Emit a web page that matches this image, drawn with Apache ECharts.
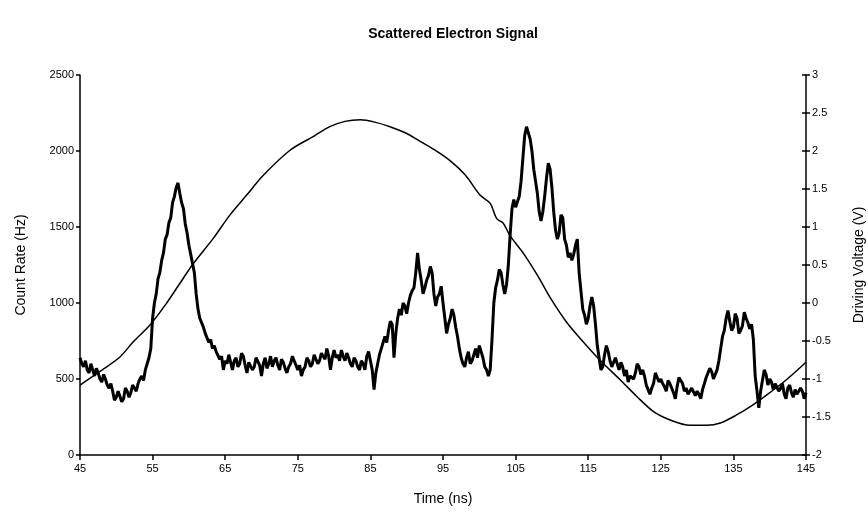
<!DOCTYPE html>
<html>
<head>
<meta charset="utf-8">
<script src="https://cdn.jsdelivr.net/npm/echarts@6/dist/echarts.min.js"></script>
<style>html,body{margin:0;padding:0;background:#fff}#c{width:868px;height:515px}</style>
</head>
<body>
<div id="c"></div>
<script>
const xTicks = [45, 55, 65, 75, 85, 95, 105, 115, 125, 135, 145];
const countStart = 45;
const countStep = 0.25;
const countRate = [
  640,600,580,620,560,540,600,560,520,570,540,500,480,530,500,460,440,470,420,360,380,
  420,430,350,370,440,420,380,410,460,450,420,470,500,520,490,560,600,640,700,900,
  1000,1060,1160,1200,1280,1330,1420,1450,1530,1560,1660,1700,1760,1790,1720,1660,1620,1520,1460,1380,
  1320,1260,1200,1060,960,900,870,840,800,790,740,760,700,720,680,690,630,650,560,620,
  600,660,610,560,620,640,580,600,670,650,590,540,610,620,560,580,640,650,590,520,
  600,640,570,600,650,580,620,640,590,560,630,610,570,540,580,600,650,620,590,560,
  590,520,560,580,640,620,580,600,660,650,600,620,670,680,630,700,650,560,640,690,
  640,660,620,690,650,620,670,640,600,580,640,620,580,560,620,600,560,650,680,620,
  560,430,540,600,660,700,740,780,740,820,880,860,640,800,900,960,920,1000,980,930,
  1000,1050,1080,1100,1200,1330,1220,1150,1060,1100,1150,1180,1240,1200,1060,980,1040,1060,1110,1000,
  900,800,860,900,960,920,840,780,700,640,600,580,640,680,600,620,660,700,640,720,
  680,640,580,560,520,560,760,1000,1100,1150,1220,1200,1120,1060,1120,1250,1450,1620,1680,1630,
  1640,1700,1800,1950,2100,2160,2120,2080,2000,1880,1800,1720,1600,1540,1600,1700,1820,1920,1880,1760,
  1600,1480,1420,1460,1580,1560,1420,1380,1300,1330,1280,1320,1380,1420,1200,1080,960,920,860,900,
  980,1040,980,860,720,640,560,580,660,720,680,620,580,590,640,600,560,610,580,520,
  560,480,520,530,500,540,600,580,530,560,520,460,430,400,440,470,540,530,480,500,
  470,450,420,490,470,460,410,370,450,510,490,470,420,440,400,390,440,430,390,420,
  400,370,430,470,510,520,570,550,500,510,560,620,700,780,820,900,950,880,820,840,
  930,900,800,820,850,940,900,870,830,860,760,520,420,310,420,490,560,530,460,500,
  480,430,470,460,420,440,470,400,370,440,460,410,380,430,400,390,440,420,370,410
];
const voltTime = [45,47.75,50.5,52.34,54.64,56.94,58.77,60.61,63.36,65.66,67.96,70.25,73.93,77.3,79.4,81.5,83.6,85.6,87.7,89.8,91.8,93.9,96,98.1,100.1,101.5,102.4,103.3,104.2,106.1,108.1,109.7,112,114.3,116.6,119.4,121.7,124,126.3,129,131.3,133.2,135.5,137.7,139.6,142.3,145];
const voltage = [-1.08,-0.9,-0.71,-0.51,-0.29,0,0.26,0.52,0.85,1.16,1.42,1.68,2.01,2.2,2.32,2.39,2.41,2.38,2.32,2.24,2.13,2.01,1.87,1.68,1.42,1.31,1.11,1.05,0.89,0.65,0.35,0.08,-0.25,-0.51,-0.75,-1.01,-1.23,-1.43,-1.54,-1.61,-1.61,-1.58,-1.47,-1.34,-1.21,-1.01,-0.78];

const countData = countRate.map((v, i) => [countStart + i * countStep, v]);
const voltData = voltTime.map((t, i) => [t, voltage[i]]);

const font = 'Liberation Sans, Arial, sans-serif';
const chart = echarts.init(document.getElementById('c'), null, {renderer: 'canvas'});
chart.setOption({
  animation: false,
  backgroundColor: '#fff',
  title: {
    text: 'Scattered Electron Signal',
    left: 448, top: 22, textAlign: 'center',
    textStyle: {fontFamily: font, fontSize: 14, fontWeight: 'bold', color: '#000'}
  },
  grid: {left: 80, right: 62, top: 75, bottom: 60, containLabel: false, outerBoundsMode: 'none'},
  xAxis: {
    type: 'value', min: 45, max: 145, interval: 10,
    name: 'Time (ns)', nameLocation: 'middle', nameGap: 37,
    nameTextStyle: {fontFamily: font, fontSize: 14, color: '#000'},
    axisLine: {show: true, lineStyle: {color: '#000', width: 1.5}},
    axisTick: {show: true, inside: false, length: 5, lineStyle: {color: '#000', width: 1.5}},
    axisLabel: {fontFamily: font, fontSize: 11, color: '#000', margin: 8, formatter: v => String(v)},
    splitLine: {show: false}
  },
  yAxis: [
    {
      type: 'value', min: 0, max: 2500, interval: 500, position: 'left',
      name: 'Count Rate (Hz)', nameLocation: 'middle', nameGap: 52,
      nameTextStyle: {fontFamily: font, fontSize: 14, color: '#000'},
      axisLine: {show: true, lineStyle: {color: '#000', width: 1.5}},
      axisTick: {show: true, length: 4, lineStyle: {color: '#000', width: 1.5}},
      axisLabel: {fontFamily: font, fontSize: 11, color: '#000', margin: 6, formatter: v => String(v)},
      splitLine: {show: false}
    },
    {
      type: 'value', min: -2, max: 3, interval: 0.5, position: 'right',
      name: 'Driving Voltage (V)', nameLocation: 'middle', nameGap: 46, nameRotate: 90,
      nameTextStyle: {fontFamily: font, fontSize: 14, color: '#000'},
      axisLine: {show: true, lineStyle: {color: '#000', width: 1.5}},
      axisTick: {show: true, length: 4, lineStyle: {color: '#000', width: 1.5}},
      axisLabel: {fontFamily: font, fontSize: 11, color: '#000', margin: 6, formatter: v => String(v)},
      splitLine: {show: false}
    },
    {
      type: 'value', min: -2, max: 3, interval: 0.5, position: 'right',
      axisLine: {show: false},
      axisTick: {show: true, inside: true, length: 4, lineStyle: {color: '#000', width: 1.5}},
      axisLabel: {show: false},
      splitLine: {show: false}
    }
  ],
  series: [
    {
      type: 'line', yAxisIndex: 0, data: countData, showSymbol: false,
      lineStyle: {color: '#000', width: 3}, z: 3
    },
    {
      type: 'line', yAxisIndex: 1, data: voltData, showSymbol: false, smooth: 0.3,
      lineStyle: {color: '#000', width: 1.5}, z: 2
    }
  ]
});
</script>
</body>
</html>
